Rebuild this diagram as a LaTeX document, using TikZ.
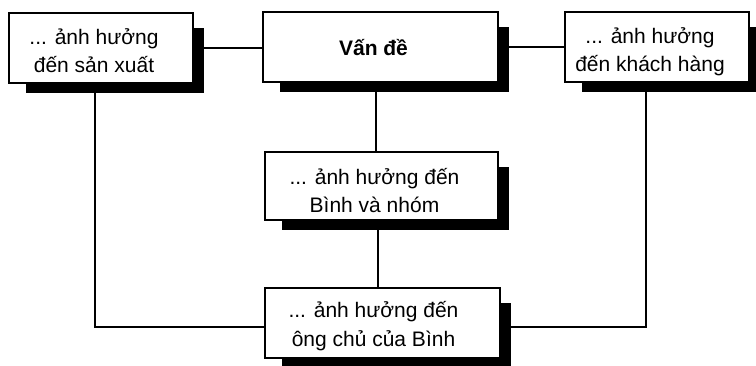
\documentclass[tikz,border=0pt]{standalone}
\usepackage{fontspec}
\setmainfont{Liberation Sans}
\pgfdeclarelayer{bg}
\pgfsetlayers{bg,main}
\tikzset{
  box/.style={draw, line width=2.4pt, fill=white, inner sep=0pt},
  lbl/.style={font=\fontsize{21}{28.5}\selectfont, inner sep=0pt},
  conn/.style={line width=2pt},
  shade/.style={fill=black}
}
\begin{document}
\begin{tikzpicture}[x=1pt,y=-1pt]
\useasboundingbox (0,0) rectangle (756,366);
\node[box, minimum width=184pt, minimum height=70pt,
  label={[lbl, xshift=-7pt, yshift=-5pt]center:{\begin{tabular}{@{}c@{}}... ảnh hưởng\\đến sản xuất\end{tabular}}}] (tl) at (101,48) {};
\node[box, minimum width=235pt, minimum height=70pt,
  label={[lbl, font=\fontsize{21}{28.5}\selectfont\bfseries, xshift=-7pt, yshift=-2.5pt]center:{\begin{tabular}{@{}c@{}}Vấn đề\end{tabular}}}] (tc) at (380.5,47) {};
\node[box, minimum width=184pt, minimum height=70pt,
  label={[lbl, xshift=-7pt, yshift=-5pt]center:{\begin{tabular}{@{}c@{}}... ảnh hưởng\\đến khách hàng\end{tabular}}}] (tr) at (657,47) {};
\node[box, minimum width=233pt, minimum height=68pt,
  label={[lbl, xshift=-7pt, yshift=-7pt]center:{\begin{tabular}{@{}c@{}}... ảnh hưởng đến\\Bình và nhóm\end{tabular}}}] (mid) at (381.5,186) {};
\node[box, minimum width=235pt, minimum height=70pt,
  label={[lbl, xshift=-9pt, yshift=-3.5pt]center:{\begin{tabular}{@{}c@{}}... ảnh hưởng đến\\ông chủ của Bình\end{tabular}}}] (bot) at (382.5,323) {};
\begin{pgfonlayer}{bg}
  \draw[conn] (tl.east) -- (tl.east -| tc.west);
  \draw[conn] (tc.east) -- (tc.east -| tr.west);
  \draw[conn] ([xshift=-5pt]tc.south) -- ([xshift=-5pt]tc.south |- mid.north);
  \draw[conn] ([xshift=-4pt]mid.south) -- ([xshift=-4pt]mid.south |- bot.north);
  \draw[conn] ([xshift=-6pt]tl.south) |- ([yshift=-4pt]bot.west);
  \draw[conn] ([xshift=-11pt]tr.south) |- ([yshift=-4pt]bot.east);
  \foreach \n in {tl,tc,tr,mid,bot}
    \fill[shade] ([xshift=18pt,yshift=-9pt]\n.south west) rectangle ([xshift=10pt,yshift=-16pt]\n.north east);
\end{pgfonlayer}
\end{tikzpicture}
\end{document}
